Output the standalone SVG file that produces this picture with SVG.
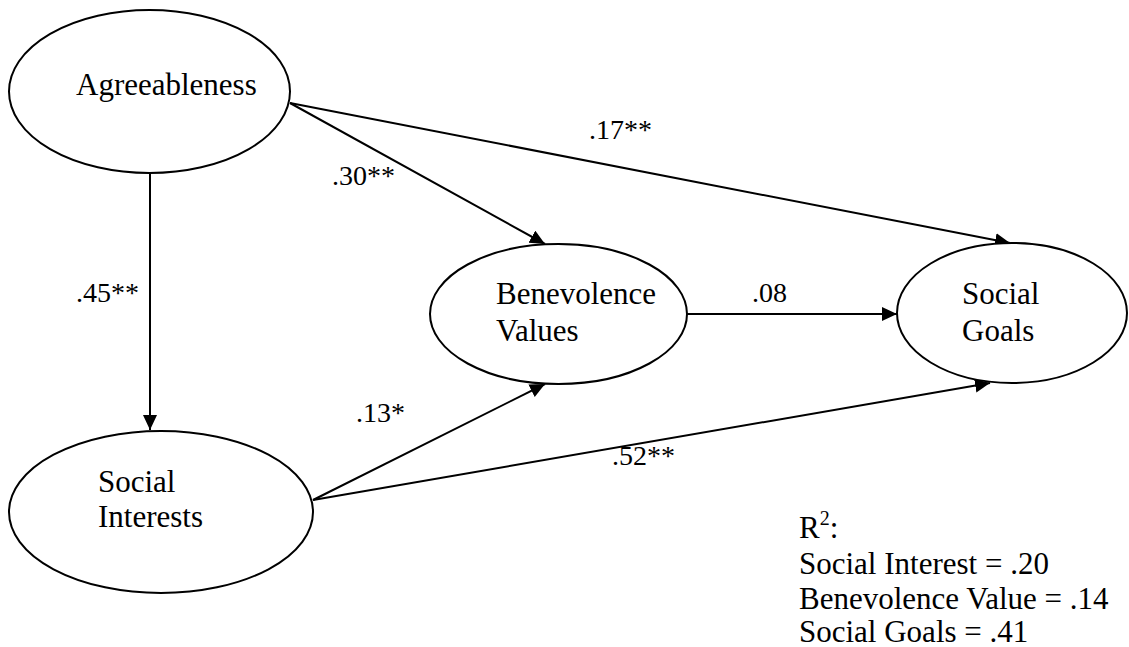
<svg xmlns="http://www.w3.org/2000/svg" width="1129" height="647" viewBox="0 0 1129 647">
<style>
.node{fill:#fff;stroke:#000;stroke-width:2}
.t{font-family:'Times New Roman','Liberation Serif',Times,serif;font-size:31px;fill:#000}
.lbl{font-family:'Times New Roman','Liberation Serif',Times,serif;font-size:28px;fill:#000}
.edge{stroke:#000;stroke-width:2;fill:none;marker-end:url(#arr)}
</style>
<defs>
<marker id="arr" markerUnits="userSpaceOnUse" markerWidth="16" markerHeight="15" refX="15" refY="7" orient="auto">
<path d="M0,0 L15,7 L0,14 z" fill="#000"/>
</marker>
</defs>
<rect width="1129" height="647" fill="#fff"/>
<g id="connectors">
<line class="edge" x1="150" y1="173" x2="150" y2="430"/>
<line class="edge" x1="290" y1="103" x2="545" y2="244"/>
<line class="edge" x1="290" y1="103" x2="1010" y2="243"/>
<line class="edge" x1="687" y1="314" x2="897" y2="314"/>
<line class="edge" x1="313" y1="500" x2="545" y2="384"/>
<line class="edge" x1="313" y1="500" x2="990" y2="383"/>
<text class="lbl" x="76" y="302">.45**</text>
<text class="lbl" x="332" y="185">.30**</text>
<text class="lbl" x="589" y="139">.17**</text>
<text class="lbl" x="752" y="302">.08</text>
<text class="lbl" x="356" y="422">.13*</text>
<text class="lbl" x="612" y="465">.52**</text>
</g>
<g id="agreeableness">
<ellipse class="node" cx="149.5" cy="91.5" rx="140.5" ry="81.5"/>
<text class="t" x="76" y="95">Agreeableness</text>
</g>
<g id="social-interests">
<ellipse class="node" cx="161" cy="512" rx="152" ry="81"/>
<text class="t" x="98" y="492">Social</text>
<text class="t" x="98" y="527">Interests</text>
</g>
<g id="benevolence-values">
<ellipse class="node" cx="558.5" cy="314" rx="128.5" ry="70"/>
<text class="t" x="496" y="304">Benevolence</text>
<text class="t" x="496" y="341">Values</text>
</g>
<g id="social-goals">
<ellipse class="node" cx="1012" cy="313" rx="115" ry="70"/>
<text class="t" x="962" y="304">Social</text>
<text class="t" x="962" y="341">Goals</text>
</g>
<g id="r-squared">
<text class="t" x="799" y="538">R<tspan font-size="20" dy="-13">2</tspan><tspan dy="13">:</tspan></text>
<text class="t" x="799" y="574">Social Interest = .20</text>
<text class="t" x="799" y="609">Benevolence Value = .14</text>
<text class="t" x="799" y="642">Social Goals = .41</text>
</g>
</svg>
